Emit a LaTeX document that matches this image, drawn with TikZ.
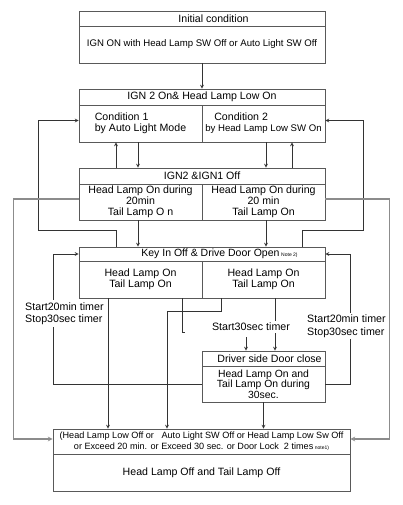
\documentclass[tikz,border=0pt]{standalone}
\usepackage{fontspec}
\setmainfont{Liberation Sans}
\usepackage{tikz}
\usetikzlibrary{arrows, positioning}

\begin{document}
\begin{tikzpicture}[x=1pt, y=-1pt]
\tikzstyle{cell} = [rectangle, draw=black!65, line width=0.9pt, inner sep=1pt, align=center, font=\fontsize{10.6}{11}\selectfont]
\tikzstyle{arrow} = [draw=black!80, line width=0.7pt, ->, >=stealth]
\tikzstyle{stub} = [draw=black!80, line width=0.7pt]
\tikzstyle{sideline} = [draw=black!45, line width=1.1pt, ->, >=stealth]
\tikzstyle{timer} = [fill=white, inner sep=2pt, align=left, font=\fontsize{10.7}{12.5}\selectfont]

\useasboundingbox (0,0) rectangle (402,505);

% Initial condition
\node[cell, minimum width=246pt, minimum height=15pt] (inith) at (202,18.5) {\hspace*{23pt}Initial condition};
\node[cell, minimum width=246pt, minimum height=37pt, font=\fontsize{9.6}{11}\selectfont] (initb) at (202,44.5) {IGN ON with Head Lamp SW Off or Auto Light SW Off};

% IGN2 On
\node[cell, minimum width=246pt, minimum height=16pt] (onh) at (202,97) {IGN 2 On\& Head Lamp Low On};
\node[cell, minimum width=123pt, minimum height=37pt, align=left] (onl) at (140.5,123.5) {Condition 1\\by Auto Light Mode};
\node[cell, minimum width=123pt, minimum height=37pt, align=left] (onr) at (263.5,123.5) {\hspace*{9pt}{\fontsize{10.6}{11}\selectfont Condition 2}\\{\fontsize{9.6}{11}\selectfont by Head Lamp Low SW On}};

% IGN2 & IGN1 Off
\node[cell, minimum width=246pt, minimum height=16pt] (offh) at (202,176) {IGN2 \&IGN1 Off};
\node[cell, minimum width=123pt, minimum height=36pt] (offl) at (140.5,202) {Head Lamp On during\\20min\\Tail Lamp O n};
\node[cell, minimum width=123pt, minimum height=36pt] (offr) at (263.5,202) {Head Lamp On during\\20 min\\Tail Lamp On};

% Key In Off
\node[cell, minimum width=246pt, minimum height=14pt, font=\fontsize{10.5}{11}\selectfont] (keyh) at (202,254) {\hspace*{35pt}Key In Off \& Drive Door Open\,{\fontsize{5}{5}\selectfont Note 2)}};
\node[cell, minimum width=123pt, minimum height=37pt] (keyl) at (140.5,279.5) {Head Lamp On\\Tail Lamp On};
\node[cell, minimum width=123pt, minimum height=37pt] (keyr) at (263.5,279.5) {Head Lamp On\\Tail Lamp On};

% Driver side door
\node[cell, minimum width=123pt, minimum height=15pt] (doorh) at (263.5,358.5) {\hspace*{12pt}Driver side Door close};
\node[cell, minimum width=123pt, minimum height=36pt, font=\fontsize{10.4}{10.5}\selectfont] (doorb) at (263.5,384) {Head Lamp On and\\Tail Lamp On during\\30sec.};

% Lamp off
\node[cell, minimum width=297pt, minimum height=25pt, font=\fontsize{9.1}{11}\selectfont] (lamph) at (201.5,441.5) {(Head Lamp Low Off or \ \ Auto Light SW Off or Head Lamp Low Sw Off\\or Exceed 20 min. or Exceed 30 sec. or Door Lock \ 2 times\,{\fontsize{5}{5}\selectfont note1)}};
\node[cell, minimum width=297pt, minimum height=37pt] (lampb) at (201.5,472.5) {Head Lamp Off and Tail Lamp Off};

% Connections
\draw[arrow] (initb) -- (onh);
\draw[arrow] ([xshift=-2.5pt]onl.south) -- ([xshift=-64pt]offh.north);
\draw[arrow] ([xshift=2.5pt]onr.south) -- ([xshift=64pt]offh.north);
\draw[arrow] ([xshift=-86pt]offh.north) -- ([xshift=-24.5pt]onl.south);
\draw[arrow] ([xshift=90pt]offh.north) -- ([xshift=28.5pt]onr.south);
\draw[arrow] ([xshift=-2.5pt]offl.south) -- ([xshift=-64pt]keyh.north);
\draw[arrow] ([xshift=2.5pt]offr.south) -- ([xshift=64pt]keyh.north);

% back to IGN2 On
\draw[arrow] ([xshift=-86pt]keyh.north) -- ++(0,-16) -- ++(-78,0) |- ([yshift=3pt]onl.west);
\draw[arrow] ([xshift=100pt]keyh.north) -- ++(0,-16) -- ++(61,0) |- ([yshift=3pt]onr.east);

% IGN Off to Lamp off
\draw[sideline] ([yshift=3pt]offl.west) -- ++(-65,0) |- ([yshift=2.5pt]lamph.west);
\draw[sideline] ([yshift=3pt]offr.east) -- ++(64,0) |- ([yshift=2.5pt]lamph.east);

% door close back to Key In Off
\draw[arrow] (doorb.west) -- ++(-148,0) |- (keyh.west);
\draw[arrow] (doorb.east) -- ++(25,0) |- (keyh.east);

% Key In Off downwards
\draw[arrow] ([xshift=-32.5pt]keyl.south) -- ([xshift=-93.5pt]lamph.north);
\draw[stub] ([xshift=41.5pt]keyl.south) -- ++(0,34) -- ++(3,0);
\draw[arrow] ([xshift=-42.5pt]keyr.south) -- ++(0,13) -- ++(-54,0) -- ([xshift=-34.5pt]lamph.north);
\draw[arrow] ([xshift=11.5pt]keyr.south) -- ([xshift=11.5pt]doorh.north);
\coordinate (t30) at (246,337);
\draw[arrow] (t30) -- ([xshift=-17.5pt]doorh.north);
\draw[arrow] (doorb.south) -- (doorb.south |- lamph.north);

% timer labels
\node[timer, anchor=west] (tmleft) at (23,313.5) {Start20min timer\\Stop30sec timer};
\node[timer, anchor=west] (tmright) at (305,326) {Start20min timer\\Stop30sec timer};
\node[timer] (tm30) at (251,327) {Start30sec timer};
\end{tikzpicture}
\end{document}
